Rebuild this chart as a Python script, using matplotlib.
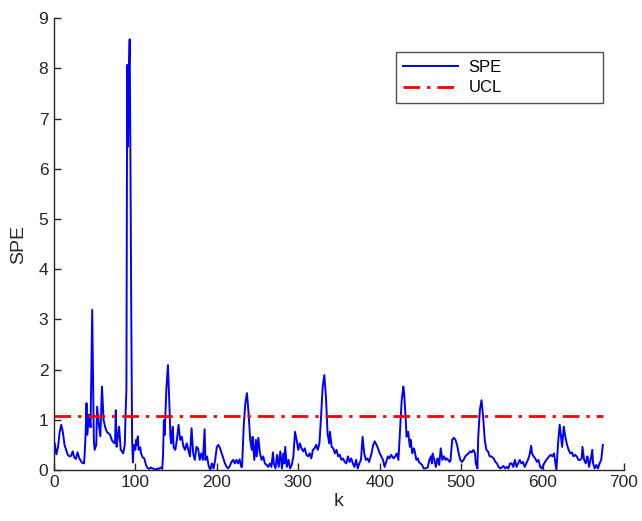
import numpy as np
import matplotlib
matplotlib.use('Agg')
import matplotlib.pyplot as plt

# SPE statistic (sample index k, value)
k = [1, 3, 5, 7, 9, 11, 13, 15, 17, 19, 21, 23, 25, 27, 29, 31, 33, 35, 37, 38,
     39, 40, 41, 43, 45, 47, 49, 50, 52, 53, 55, 57, 59, 61, 63, 65, 67, 69, 71, 73,
     75, 76, 77, 78, 80, 82, 84, 85, 87, 88, 89, 90, 91, 92, 93, 94, 95, 96, 97, 98,
     100, 101, 102, 103, 104, 106, 107, 109, 111, 113, 115, 117, 119, 121, 123, 125, 127, 129, 131, 133,
     134, 135, 136, 138, 140, 142, 143, 144, 145, 146, 147, 149, 151, 153, 155, 157, 159, 161, 163, 165,
     167, 169, 171, 173, 175, 177, 179, 181, 183, 185, 186, 188, 190, 192, 194, 196, 198, 200, 202, 204,
     206, 208, 210, 212, 214, 216, 218, 220, 222, 224, 226, 228, 230, 231, 233, 235, 237, 239, 241, 243,
     244, 246, 248, 249, 251, 253, 255, 257, 259, 261, 263, 265, 267, 269, 270, 272, 274, 276, 278, 280,
     282, 283, 284, 286, 288, 290, 292, 294, 296, 298, 300, 302, 304, 306, 308, 310, 312, 314, 316, 318,
     320, 322, 324, 326, 328, 330, 332, 334, 336, 338, 339, 341, 343, 345, 347, 349, 351, 353, 355, 357,
     359, 361, 363, 365, 367, 369, 371, 373, 375, 377, 379, 381, 383, 385, 387, 390, 392, 394, 396, 398,
     400, 402, 404, 406, 408, 410, 412, 414, 417, 419, 421, 423, 425, 427, 429, 430, 432, 433, 435, 437,
     438, 440, 442, 443, 445, 447, 448, 450, 452, 454, 456, 459, 461, 463, 464, 465, 467, 469, 470, 471,
     473, 475, 477, 479, 481, 482, 484, 486, 487, 489, 491, 493, 495, 497, 499, 501, 503, 505, 507, 509,
     511, 513, 515, 517, 518, 520, 521, 523, 525, 527, 529, 531, 533, 535, 537, 540, 542, 544, 546, 548,
     550, 552, 554, 556, 558, 560, 562, 564, 566, 568, 570, 572, 574, 576, 578, 580, 582, 584, 586, 587,
     589, 591, 593, 595, 597, 599, 601, 603, 606, 608, 610, 612, 614, 616, 617, 619, 621, 623, 624, 626,
     628, 630, 632, 634, 636, 638, 640, 642, 644, 646, 648, 649, 651, 653, 655, 656, 657, 659, 661, 662,
     664, 666, 668, 670, 672, 674]
spe = [0.53, 0.31, 0.45, 0.75, 0.90, 0.75, 0.50, 0.40, 0.30, 0.27, 0.28, 0.37, 0.25, 0.22, 0.35, 0.24, 0.18, 0.14, 0.13, 0.40,
       0.75, 1.33, 0.70, 1.10, 0.85, 3.19, 0.60, 0.40, 0.50, 1.26, 0.93, 0.67, 1.66, 0.99, 0.85, 0.76, 0.73, 0.70, 0.60, 0.55,
       0.53, 1.19, 0.46, 0.60, 0.86, 0.40, 0.36, 0.33, 0.50, 1.13, 1.60, 8.07, 6.44, 7.90, 8.58, 6.00, 3.00, 0.60, 0.15, 0.50,
       0.40, 0.60, 0.50, 0.67, 0.40, 0.45, 0.33, 0.25, 0.23, 0.10, 0.04, 0.02, 0.05, 0.03, 0.02, 0.00, 0.03, 0.02, 0.05, 0.02,
       0.30, 0.99, 0.70, 1.60, 2.09, 1.20, 0.67, 0.53, 0.73, 0.86, 0.45, 0.40, 0.60, 0.90, 0.60, 0.66, 0.47, 0.40, 0.53, 0.40,
       0.27, 0.83, 0.33, 0.20, 0.46, 0.43, 0.20, 0.33, 0.20, 0.81, 0.20, 0.27, 0.08, 0.00, 0.13, 0.03, 0.20, 0.46, 0.50, 0.43,
       0.33, 0.23, 0.13, 0.06, 0.03, 0.08, 0.16, 0.20, 0.13, 0.20, 0.13, 0.21, 0.06, 0.06, 0.86, 1.33, 1.53, 1.13, 0.60, 0.40,
       0.66, 0.20, 0.60, 0.27, 0.64, 0.33, 0.20, 0.27, 0.13, 0.10, 0.06, 0.13, 0.06, 0.35, 0.13, 0.03, 0.30, 0.06, 0.37, 0.03,
       0.33, 0.13, 0.46, 0.06, 0.20, 0.03, 0.10, 0.27, 0.76, 0.60, 0.40, 0.53, 0.43, 0.37, 0.43, 0.30, 0.27, 0.33, 0.23, 0.40,
       0.43, 0.50, 0.40, 0.53, 1.06, 1.66, 1.89, 1.46, 0.73, 0.53, 0.76, 0.46, 0.43, 0.33, 0.40, 0.27, 0.30, 0.20, 0.23, 0.16,
       0.13, 0.27, 0.16, 0.23, 0.13, 0.06, 0.20, 0.03, 0.13, 0.20, 0.66, 0.33, 0.20, 0.23, 0.16, 0.33, 0.50, 0.57, 0.50, 0.43,
       0.33, 0.27, 0.20, 0.06, 0.16, 0.27, 0.23, 0.30, 0.23, 0.27, 0.33, 0.20, 0.80, 1.39, 1.66, 1.53, 0.99, 0.66, 0.76, 0.46,
       0.60, 0.33, 0.43, 0.37, 0.20, 0.23, 0.16, 0.13, 0.10, 0.03, 0.03, 0.05, 0.20, 0.27, 0.13, 0.33, 0.20, 0.06, 0.16, 0.23,
       0.10, 0.43, 0.20, 0.27, 0.20, 0.23, 0.20, 0.16, 0.20, 0.60, 0.64, 0.60, 0.50, 0.33, 0.20, 0.16, 0.20, 0.27, 0.30, 0.33,
       0.37, 0.35, 0.40, 0.33, 0.13, 0.03, 0.66, 1.20, 1.39, 1.06, 0.60, 0.40, 0.37, 0.27, 0.27, 0.23, 0.16, 0.13, 0.06, 0.03,
       0.05, 0.08, 0.03, 0.06, 0.03, 0.13, 0.13, 0.06, 0.20, 0.06, 0.13, 0.20, 0.13, 0.16, 0.06, 0.13, 0.20, 0.30, 0.48, 0.33,
       0.27, 0.23, 0.16, 0.20, 0.06, 0.03, 0.10, 0.16, 0.23, 0.27, 0.30, 0.27, 0.33, 0.10, 0.00, 0.53, 0.90, 0.60, 0.46, 0.86,
       0.66, 0.50, 0.40, 0.33, 0.35, 0.27, 0.30, 0.27, 0.20, 0.20, 0.23, 0.46, 0.20, 0.13, 0.27, 0.20, 0.06, 0.20, 0.40, 0.13,
       0.03, 0.10, 0.03, 0.13, 0.20, 0.50]

# control limit
ucl = 1.08

plt.rcParams['font.family'] = ['Liberation Sans', 'DejaVu Sans']

fig = plt.figure(figsize=(6.42, 5.21), dpi=100)
ax = fig.add_axes([0.084, 0.098, 0.888, 0.867])

ax.plot(k, spe, color='#0000ff', linewidth=1.4, label='SPE')
ax.plot([0, k[-1]], [ucl, ucl], color='#ff0000', linestyle=(0, (6, 2.5, 1.2, 2.5)),
        linewidth=2, label='UCL')

ax.set_xlim(0, 700)
ax.set_ylim(0, 9)
ax.set_xticks(np.arange(0, 701, 100))
ax.set_yticks(np.arange(0, 10, 1))
ax.set_xlabel('k', fontsize=14, color='#262626', labelpad=2)
ax.set_ylabel('SPE', fontsize=14, color='#262626', labelpad=8)

for s in ['top', 'right']:
    ax.spines[s].set_visible(False)
for s in ['left', 'bottom']:
    ax.spines[s].set_color('#262626')
    ax.spines[s].set_linewidth(1.0)
ax.tick_params(direction='in', length=5, width=1, colors='#262626', labelsize=12.5, pad=4)

leg = ax.legend(loc='upper left', bbox_to_anchor=(0.6, 0.925, 0.363, 0.0), mode='expand',
                fontsize=12, frameon=True, fancybox=False, handlelength=3.3,
                borderaxespad=0, borderpad=0.45, labelspacing=0.35, handletextpad=0.6)
leg.get_frame().set_edgecolor('#262626')
leg.get_frame().set_linewidth(1.0)

fig.savefig('out.png', dpi=100)
